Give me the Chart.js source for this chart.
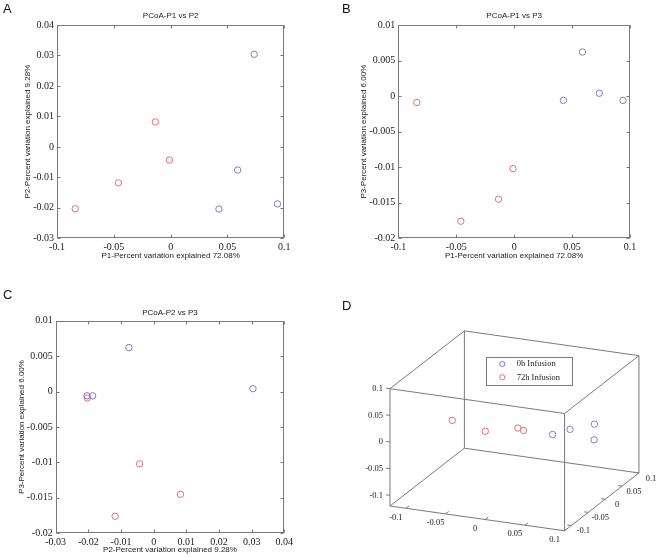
<!DOCTYPE html>
<html>
<head>
<meta charset="utf-8">
<script src="https://cdn.jsdelivr.net/npm/chart.js@4.4.1/dist/chart.umd.min.js"></script>
<style>
  html, body { margin: 0; padding: 0; background: #fff; }
  #fig   { position: relative; width: 662px; height: 557px; overflow: hidden; }
  canvas { position: absolute; }
  .letter { position: absolute; font: 13px 'Liberation Sans', Arial, sans-serif; line-height: 13px; color: #111; }
</style>
</head>
<body>
<div id="fig">
  <canvas id="chart-a" width="330" height="280" style="left:0;top:0"></canvas>
  <canvas id="chart-b" width="332" height="280" style="left:330px;top:0"></canvas>
  <canvas id="chart-c" width="330" height="277" style="left:0;top:280px"></canvas>
  <canvas id="chart-d" width="332" height="277" style="left:330px;top:280px"></canvas>
  <div class="letter" style="left:3px;top:2px">A</div>
  <div class="letter" style="left:342px;top:2px">B</div>
  <div class="letter" style="left:3px;top:288px">C</div>
  <div class="letter" style="left:342px;top:299px">D</div>
</div>
<script>
/* ── Data ───────────────────────────────────────────────── */
const groups  = ['0h Infusion', '72h Infusion'];
const p1_0h   = [0.0425, 0.059, 0.0735, 0.094];
const p2_0h   = [-0.0204, -0.0076, 0.0304, -0.0187];
const p3_0h   = [-0.0006, 0.0062, 0.0004, -0.0006];
const p1_72h  = [-0.084, -0.046, -0.0135, -0.001];
const p2_72h  = [-0.0203, -0.0118, 0.0082, -0.0043];
const p3_72h  = [-0.0009, -0.0176, -0.0145, -0.0102];

const ticksP1 = [-0.1, -0.05, 0, 0.05, 0.1];
const ticksP2 = [-0.03, -0.02, -0.01, 0, 0.01, 0.02, 0.03, 0.04];
const ticksP3 = [-0.02, -0.015, -0.01, -0.005, 0, 0.005, 0.01];
const ticks3d = [-0.1, -0.05, 0, 0.05, 0.1];
const lim3d   = [-0.12, 0.1];

const titleP1 = 'P1-Percent variation explained 72.08%';
const titleP2 = 'P2-Percent variation explained 9.28%';
const titleP3 = 'P3-Percent variation explained 6.00%';

/* ── Styles ─────────────────────────────────────────────── */
const SANS     = "'Liberation Sans', Arial, sans-serif";
const SERIF    = "'Liberation Serif', 'Times New Roman', serif";
const COL_0H   = '#7d7dc8';
const COL_72H  = '#e07070';
const BOX_COL  = '#7a7a7a';
const TEXT_COL = '#1a1a1a';

const fmt   = v => String(+(+v).toFixed(4));
const pairs = (xs, ys) => xs.map((x, i) => ({ x, y: ys[i] }));

const pointStyle = color => ({
  borderColor: color, backgroundColor: 'rgba(0,0,0,0)',
  pointRadius: 3.2, borderWidth: 1, pointStyle: 'circle'
});

/* ── Frame with inward ticks (matlab look) ──────────────── */
const framePlugin = {
  id: 'frame',
  beforeDatasetsDraw(chart) {
    const { ctx, chartArea: a, scales: { x, y } } = chart;
    const L = Math.round(a.left) + 0.5, R = Math.round(a.right) - 0.5;
    const T = Math.round(a.top) + 0.5,  B = Math.round(a.bottom) - 0.5;
    ctx.save();
    ctx.strokeStyle = BOX_COL;
    ctx.lineWidth = 1;
    ctx.strokeRect(L, T, R - L, B - T);
    ctx.beginPath();
    x.ticks.forEach(t => {
      const p = Math.round(x.getPixelForValue(t.value)) + 0.5;
      ctx.moveTo(p, B); ctx.lineTo(p, B - 3);
      ctx.moveTo(p, T); ctx.lineTo(p, T + 3);
    });
    y.ticks.forEach(t => {
      const p = Math.round(y.getPixelForValue(t.value)) + 0.5;
      ctx.moveTo(L, p); ctx.lineTo(L + 3, p);
      ctx.moveTo(R, p); ctx.lineTo(R - 3, p);
    });
    ctx.stroke();
    ctx.restore();
  }
};

function makeScatter(id, c) {
  const canvas = document.getElementById(id);
  const W = canvas.width, H = canvas.height;
  const tPadTop = c.titleY - 4.8;
  return new Chart(canvas, {
    type: 'scatter',
    data: {
      datasets: [
        { label: groups[0], data: pairs(c.xs[0], c.ys[0]), ...pointStyle(COL_0H) },
        { label: groups[1], data: pairs(c.xs[1], c.ys[1]), ...pointStyle(COL_72H) }
      ]
    },
    options: {
      responsive: false,
      animation: false,
      events: [],
      layout: { padding: { left: 0, right: W - c.area.right, top: 0, bottom: 0 } },
      plugins: {
        legend: { display: false },
        tooltip: { enabled: false },
        title: {
          display: true, fullSize: false, text: c.title, color: TEXT_COL,
          font: { family: SANS, size: 8, weight: 'normal', lineHeight: 1.2 },
          padding: { top: tPadTop, bottom: c.area.top - tPadTop - 9.6 }
        }
      },
      scales: {
        x: {
          type: 'linear', min: c.xTicks[0], max: c.xTicks[c.xTicks.length - 1],
          afterBuildTicks: s => { s.ticks = c.xTicks.map(v => ({ value: v })); },
          afterFit: s => { s.height = H - c.area.bottom; },
          grid: { display: false, drawTicks: false },
          border: { display: false },
          ticks: { autoSkip: false, maxRotation: 0, padding: 3, color: TEXT_COL,
                   font: { family: SERIF, size: 10 }, callback: fmt },
          title: { display: true, text: c.xTitle, color: TEXT_COL,
                   font: { family: SANS, size: 8, lineHeight: 1.2 },
                   padding: { top: 0, bottom: H - c.xTitleY - 4.8 } }
        },
        y: {
          type: 'linear', min: c.yTicks[0], max: c.yTicks[c.yTicks.length - 1],
          afterBuildTicks: s => { s.ticks = c.yTicks.map(v => ({ value: v })); },
          afterFit: s => { s.width = c.area.left; },
          grid: { display: false, drawTicks: false },
          border: { display: false },
          ticks: { autoSkip: false, padding: 3, color: TEXT_COL,
                   font: { family: SERIF, size: 10 }, callback: fmt },
          title: { display: true, text: c.yTitle, color: TEXT_COL,
                   font: { family: SANS, size: 8, lineHeight: 1.2 },
                   padding: { top: c.yTitleX - 4.8, bottom: 0 } }
        }
      }
    },
    plugins: [framePlugin]
  });
}

/* ── Panels A, B, C ─────────────────────────────────────── */
makeScatter('chart-a', {
  title: 'PCoA-P1 vs P2', xTitle: titleP1, yTitle: titleP2,
  xs: [p1_0h, p1_72h], ys: [p2_0h, p2_72h],
  xTicks: ticksP1, yTicks: ticksP2,
  area: { left: 57, right: 284.3, top: 25, bottom: 238.3 },
  titleY: 16, xTitleY: 256, yTitleX: 28
});

makeScatter('chart-b', {
  title: 'PCoA-P1 vs P3', xTitle: titleP1, yTitle: titleP3,
  xs: [p1_0h, p1_72h], ys: [p3_0h, p3_72h],
  xTicks: ticksP1, yTicks: ticksP3,
  area: { left: 68.3, right: 300, top: 25, bottom: 238.3 },
  titleY: 16, xTitleY: 256, yTitleX: 34
});

makeScatter('chart-c', {
  title: 'PCoA-P2 vs P3', xTitle: titleP2, yTitle: titleP3,
  xs: [p2_0h, p2_72h], ys: [p3_0h, p3_72h],
  xTicks: ticksP2, yTicks: ticksP3,
  area: { left: 55.7, right: 284.3, top: 40.7, bottom: 253.3 },
  titleY: 32.3, xTitleY: 269.3, yTitleX: 22
});

/* ── Panel D: 3-D view projected onto a flat scatter ───── */
// box corner (min,min,min) and the screen vectors of the x, y, z axes
const PROJ = { ox: 56.7, oy: 229.3, xv: [180, 25.7], yv: [76.7, -60], zv: [0, -121.7] };

function project(x, y, z) {
  const f  = v => (v - lim3d[0]) / (lim3d[1] - lim3d[0]);
  const fx = f(x), fy = f(y), fz = f(z);
  return {
    x: PROJ.ox + fx * PROJ.xv[0] + fy * PROJ.yv[0] + fz * PROJ.zv[0],
    y: PROJ.oy + fx * PROJ.xv[1] + fy * PROJ.yv[1] + fz * PROJ.zv[1]
  };
}

function boxEdges() {
  const [lo, hi] = lim3d;
  const corners = [];
  [lo, hi].forEach(x => [lo, hi].forEach(y => [lo, hi].forEach(z => corners.push([x, y, z]))));
  const edges = [];
  corners.forEach((a, i) => corners.forEach((b, j) => {
    if (j <= i) return;
    const diff = a.filter((v, k) => v !== b[k]).length;
    if (diff === 1) edges.push([project(...a), project(...b)]);
  }));
  return edges;
}

const box3dPlugin = {
  id: 'box3d',
  afterDatasetsDraw(chart) {
    const { ctx, scales: { x: sx, y: sy } } = chart;
    const px = (x, y, z) => { const p = project(x, y, z); return [sx.getPixelForValue(p.x), sy.getPixelForValue(p.y)]; };
    const [lo, hi] = lim3d;
    const span = hi - lo;
    const mark = (p, q) => {
      const dx = q[0] - p[0], dy = q[1] - p[1], len = Math.hypot(dx, dy);
      ctx.moveTo(p[0], p[1]);
      ctx.lineTo(p[0] + dx / len * 4, p[1] + dy / len * 4);
    };
    ctx.save();
    ctx.strokeStyle = BOX_COL;
    ctx.lineWidth = 1;
    ctx.fillStyle = TEXT_COL;
    ctx.font = `8.5px ${SERIF}`;
    ctx.beginPath();
    ticks3d.forEach(v => {
      // z axis: front-left vertical edge
      const pz = px(lo, lo, v);
      mark(pz, px(lo - span, lo, v));
      ctx.textAlign = 'right'; ctx.textBaseline = 'middle';
      ctx.fillText(fmt(v), pz[0] - 7, pz[1]);
      // x axis: front-bottom edge
      const pxx = px(v, lo, lo);
      mark(pxx, px(v, hi, lo));
      ctx.textAlign = 'center';
      ctx.fillText(fmt(v), pxx[0] - 10, pxx[1] + 9);
      // y axis: right-bottom edge
      const py = px(hi, v, lo);
      mark(py, px(lo, v, lo));
      ctx.fillText(fmt(v), py[0] + 12, py[1] + 5.5);
    });
    ctx.stroke();
    ctx.restore();
  },
  afterDraw(chart) {
    // legend box
    const { ctx } = chart;
    const sets = chart.data.datasets.filter(d => groups.includes(d.label));
    const bx = 156, by = 77.3, bw = 85.7, bh = 27.7;
    ctx.save();
    ctx.fillStyle = '#fff';
    ctx.fillRect(bx, by, bw, bh);
    ctx.strokeStyle = BOX_COL;
    ctx.lineWidth = 1;
    ctx.strokeRect(Math.round(bx) + 0.5, Math.round(by) + 0.5, Math.round(bw), Math.round(bh));
    ctx.font = `8.5px ${SERIF}`;
    ctx.textAlign = 'left';
    ctx.textBaseline = 'middle';
    sets.forEach((d, i) => {
      const cy = by + 6.7 + i * 13.3;
      ctx.strokeStyle = d.borderColor;
      ctx.beginPath();
      ctx.arc(bx + 16.3, cy, 2.6, 0, Math.PI * 2);
      ctx.stroke();
      ctx.fillStyle = TEXT_COL;
      ctx.fillText(d.label, bx + 30.7, cy);
    });
    ctx.restore();
  }
};

(function makeCube() {
  const canvas = document.getElementById('chart-d');
  const W = canvas.width, H = canvas.height;
  const pts = (a, b, c) => a.map((v, i) => project(v, b[i], c[i]));
  const edgeSets = boxEdges().map((e, i) => ({
    label: 'edge' + i, data: e, showLine: true, pointRadius: 0,
    borderColor: BOX_COL, borderWidth: 1, order: 2
  }));
  new Chart(canvas, {
    type: 'scatter',
    data: {
      datasets: [
        { label: groups[0], data: pts(p1_0h, p2_0h, p3_0h), ...pointStyle(COL_0H), order: 0 },
        { label: groups[1], data: pts(p1_72h, p2_72h, p3_72h), ...pointStyle(COL_72H), order: 0 },
        ...edgeSets
      ]
    },
    options: {
      responsive: false,
      animation: false,
      events: [],
      layout: { padding: 0 },
      plugins: { legend: { display: false }, tooltip: { enabled: false } },
      scales: {
        x: { type: 'linear', min: 0, max: W, display: false },
        y: { type: 'linear', min: 0, max: H, reverse: true, display: false }
      }
    },
    plugins: [box3dPlugin]
  });
})();
</script>
</body>
</html>
